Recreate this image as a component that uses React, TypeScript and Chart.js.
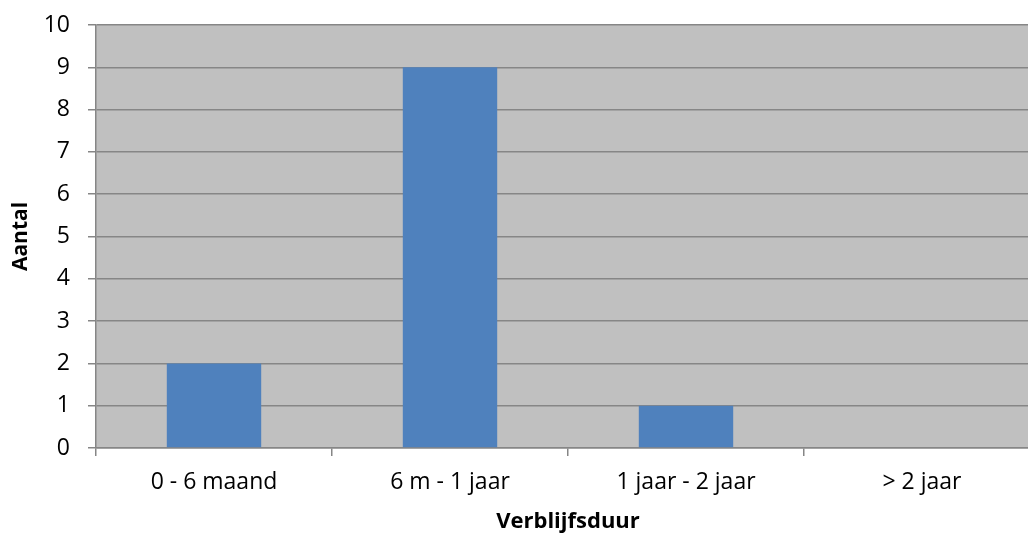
import React, { useEffect, useRef } from "react";
import { Chart, registerables } from "chart.js";

Chart.register(...registerables);

const categories = ["0 - 6 maand", "6 m - 1 jaar", "1 jaar - 2 jaar", "> 2 jaar"];
const values = [2, 9, 1, 0];
const yTicks = [0, 1, 2, 3, 4, 5, 6, 7, 8, 9, 10];

const FONT = "'Open Sans', 'DejaVu Sans', sans-serif";
const GRID = "#868686";

const plotBg = {
  id: "plotBg",
  beforeDraw(chart: any) {
    const { ctx, chartArea } = chart;
    ctx.save();
    ctx.fillStyle = "#C0C0C0";
    ctx.fillRect(chartArea.left, chartArea.top, chartArea.right - chartArea.left, chartArea.bottom - chartArea.top);
    ctx.restore();
  },
};

export default function App() {
  const ref = useRef<HTMLCanvasElement>(null);
  useEffect(() => {
    if (!ref.current) return;
    const chart = new Chart(ref.current, {
      type: "bar",
      data: {
        labels: categories,
        datasets: [
          {
            label: "Aantal",
            data: values,
            backgroundColor: "#4F81BD",
            borderWidth: 0,
            categoryPercentage: 1,
            barPercentage: 0.4,
          },
        ],
      },
      options: {
        animation: false,
        responsive: false,
        devicePixelRatio: 1,
        layout: { padding: { top: 25, left: 0, right: 0, bottom: 0 } },
        plugins: { legend: { display: false }, tooltip: { enabled: false } },
        scales: {
          x: {
            offset: true,
            grid: {
              display: true,
              offset: true,
              drawOnChartArea: false,
              drawTicks: true,
              tickLength: 8,
              color: GRID,
              lineWidth: 1.5,
            },
            border: { display: true, color: GRID, width: 1.5 },
            ticks: { color: "#000", font: { family: FONT, size: 23 }, padding: 13, maxRotation: 0, autoSkip: false },
            title: {
              display: true,
              text: "Verblijfsduur",
              color: "#000",
              font: { family: FONT, size: 22, weight: "bold" },
              padding: { top: 0, bottom: -1 },
            },
            afterFit: (scale: any) => {
              scale.height = 86;
              scale.paddingLeft = 0;
              scale.paddingRight = 0;
            },
          },
          y: {
            min: 0,
            max: 10,
            afterBuildTicks: (scale: any) => {
              scale.ticks = yTicks.map((v) => ({ value: v }));
            },
            grid: {
              color: GRID,
              lineWidth: 1.5,
              drawTicks: true,
              tickLength: 8,
            },
            border: { display: true, color: GRID, width: 1.5 },
            ticks: { color: "#000", font: { family: FONT, size: 23 }, padding: 18, stepSize: 1 },
            title: {
              display: true,
              text: "Aantal",
              color: "#000",
              font: { family: FONT, size: 21, weight: "bold" },
              padding: { top: 8, bottom: 0 },
            },
            afterFit: (scale: any) => {
              scale.width = 96;
              scale.paddingTop = 0;
              scale.paddingBottom = 0;
            },
          },
        },
      },
      plugins: [plotBg],
    });
    return () => chart.destroy();
  }, []);
  return (
    <div style={{ position: "fixed", left: 0, top: 0, width: 1028, height: 534, overflow: "hidden", background: "#fff" }}>
      <canvas ref={ref} width={1040} height={534} style={{ width: 1040, height: 534, display: "block" }} />
    </div>
  );
}
